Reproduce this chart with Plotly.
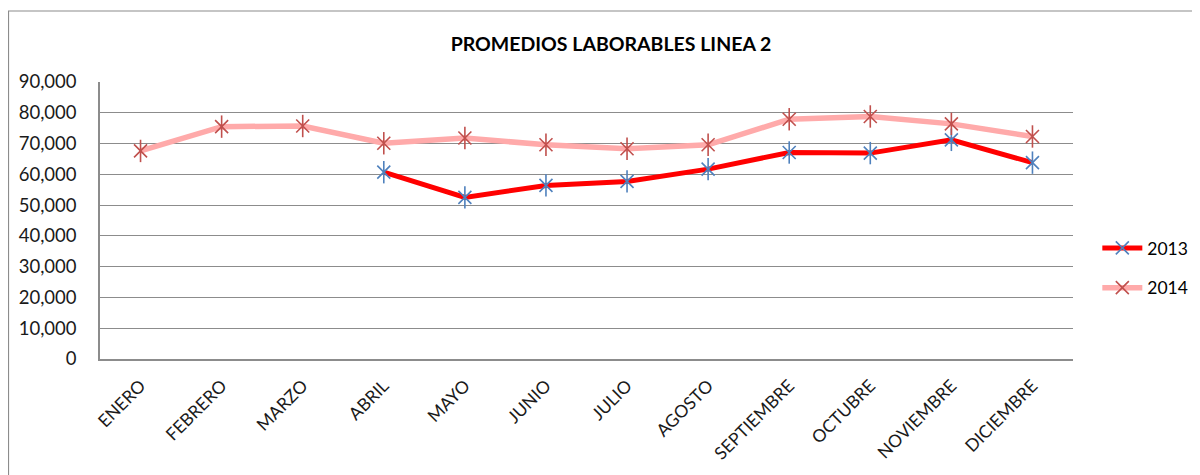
import plotly.graph_objects as go

MONTHS = ["ENERO", "FEBRERO", "MARZO", "ABRIL", "MAYO", "JUNIO", "JULIO",
          "AGOSTO", "SEPTIEMBRE", "OCTUBRE", "NOVIEMBRE", "DICIEMBRE"]

VALUES_2013 = [None, None, None, 60700, 52500, 56400, 57700,
               61700, 67100, 66900, 71200, 63800]
VALUES_2014 = [67600, 75500, 75700, 70100, 71800, 69600, 68300,
               69600, 77900, 78800, 76400, 72300]

Y_TICKS = list(range(0, 90001, 10000))

FONT = "Lato, 'Open Sans', sans-serif"
GRID = "#8c8c8c"

# page body has an 8px margin, so the figure is sized to fit the window
W, H = 1192, 467
ML, MR, MT, MB = 92, 127, 74, 116
PW, PH = W - ML - MR, H - MT - MB

fig = go.Figure()


def add_series(name, values, line_color, line_width, marker_color):
    # main line + X-part of the Excel "star" marker
    fig.add_trace(
        go.Scatter(
            x=MONTHS,
            y=values,
            mode="lines+markers",
            name=name,
            legendgroup=name,
            line=dict(color=line_color, width=line_width),
            marker=dict(
                symbol="x-thin-open",
                size=13,
                color=marker_color,
                line=dict(color=marker_color, width=1.6),
            ),
        )
    )
    # vertical stroke of the star marker
    fig.add_trace(
        go.Scatter(
            x=MONTHS,
            y=values,
            mode="markers",
            legendgroup=name,
            showlegend=False,
            hoverinfo="skip",
            marker=dict(
                symbol="line-ns-open",
                size=16,
                color=marker_color,
                line=dict(color=marker_color, width=1.6),
            ),
        )
    )


add_series("2013", VALUES_2013, "#ff0000", 5, "#4f81bd")
add_series("2014", VALUES_2014, "#ffaaaa", 5.5, "#c0504d")

# outer chart border (right and bottom edges run off the page)
fig.add_shape(
    type="rect", xref="paper", yref="paper",
    x0=-(ML - 0.5) / PW, x1=1.2, y0=-0.6, y1=1 + (MT - 3) / PH,
    line=dict(color="#8c8c8c", width=1.2),
    layer="below",
)

fig.update_layout(
    width=W,
    height=H,
    margin=dict(l=ML, r=MR, t=MT, b=MB, autoexpand=False),
    paper_bgcolor="white",
    plot_bgcolor="white",
    font=dict(family=FONT, color="#1a1a1a", size=16),
    title=dict(
        text="<b>PROMEDIOS LABORABLES LINEA 2</b>",
        x=603 / W,
        xanchor="center",
        y=1 - 36 / H,
        yanchor="middle",
        font=dict(family=FONT, size=19.5, color="#000000"),
    ),
    legend=dict(
        x=1.025,
        xanchor="left",
        y=1 - 186 / PH,
        yanchor="middle",
        font=dict(size=17.5, color="#000000"),
        tracegroupgap=14,
        itemwidth=40,
        bgcolor="rgba(0,0,0,0)",
    ),
    showlegend=True,
)

fig.update_xaxes(
    type="category",
    tickangle=-45,
    automargin=False,
    showgrid=False,
    showline=True,
    linecolor=GRID,
    linewidth=1.5,
    ticks="",
    ticklabelstandoff=8,
    tickfont=dict(size=17.5, color="#1a1a1a"),
    range=[-0.5, 11.5],
)

fig.update_yaxes(
    range=[0, 90000],
    tickvals=Y_TICKS,
    tickformat=",",
    automargin=False,
    showgrid=True,
    gridcolor=GRID,
    gridwidth=1.3,
    showline=True,
    linecolor=GRID,
    linewidth=1.5,
    zeroline=False,
    ticks="",
    ticklabelstandoff=18,
    tickfont=dict(size=18.5, color="#1a1a1a"),
)

fig.write_html("out.html")
